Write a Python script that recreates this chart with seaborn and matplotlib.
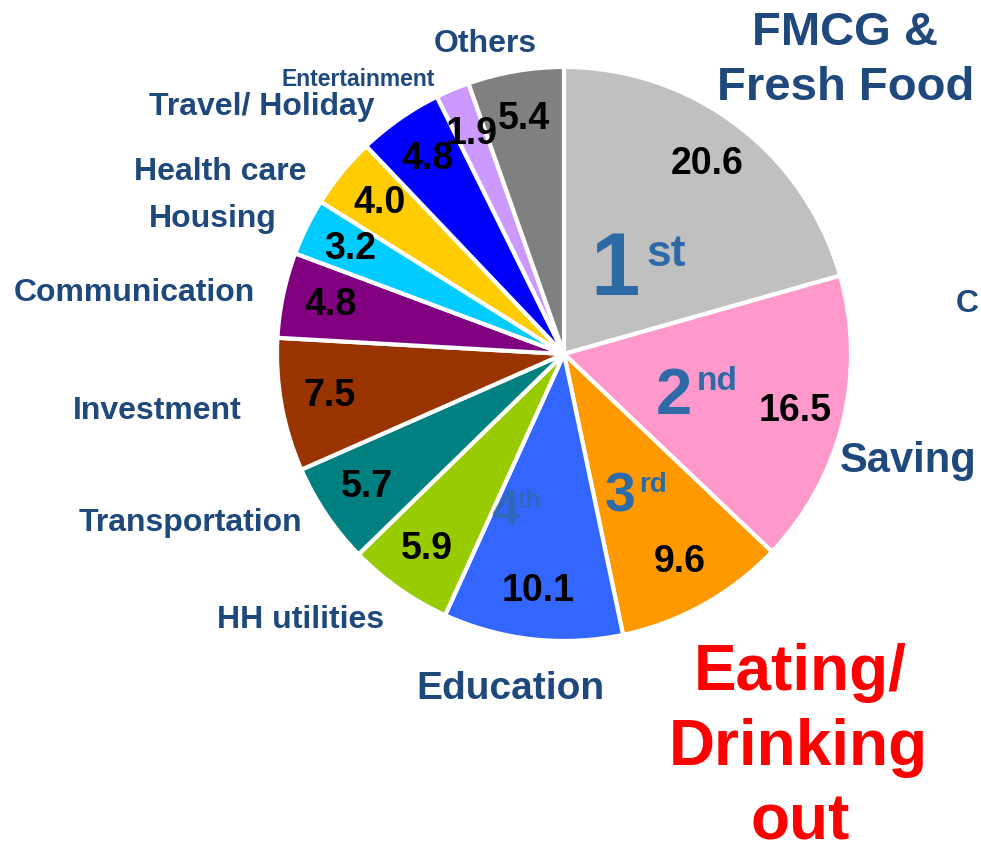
import seaborn as sns
import matplotlib.pyplot as plt

categories = ['FMCG & Fresh Food', 'Saving', 'Eating/ Drinking out', 'Education',
              'HH utilities', 'Transportation', 'Investment', 'Communication',
              'Housing', 'Health care', 'Travel/ Holiday', 'Entertainment', 'Others']
values = [20.6, 16.5, 9.6, 10.1, 5.9, 5.7, 7.5, 4.8, 3.2, 4.0, 4.8, 1.9, 5.4]
slice_colors = ['#C0C0C0', '#FF99CC', '#FF9900', '#3366FF', '#99CC00', '#008080',
                '#993300', '#800080', '#00CCFF', '#FFCC00', '#0000FF', '#CC99FF', '#808080']
ranks = ['1', '2', '3', '4']
rank_suffix = ['st', 'nd', 'rd', 'th']

sns.set_theme(style='white')
plt.rcParams['font.family'] = ['Liberation Sans', 'DejaVu Sans']

fig = plt.figure(figsize=(9.81, 8.51), dpi=100)
ax = fig.add_axes([0, 0, 1, 1])

# with y inverted, counterclock in data = clockwise on screen; -90 points up
ax.pie(values, colors=sns.color_palette(slice_colors), center=(564, 354), radius=287,
       startangle=-90, counterclock=True, autopct=lambda p: f'{p:.1f}', pctdistance=0.83,
       wedgeprops=dict(edgecolor='white', linewidth=3),
       textprops=dict(fontsize=27, fontweight='bold', color='black',
                      family=['Liberation Sans Narrow', 'Liberation Sans']), frame=True)
ax.set_xlim(0, 981)
ax.set_ylim(851, 0)  # pixel-like coords, y down
ax.axis('off')

lab = '#1F497D'
small = dict(color=lab, fontweight='bold', ha='center', va='center')
ax.text(485, 44, 'Others', fontsize=23, **small)
ax.text(358, 80, 'Entertainment', fontsize=16.5, **small)
ax.text(262, 107, 'Travel/ Holiday', fontsize=23, **small)
ax.text(220, 172, 'Health care', fontsize=23, **small)
ax.text(213, 219, 'Housing', fontsize=23, **small)
ax.text(134, 293, 'Communication', fontsize=23, **small)
ax.text(157, 411, 'Investment', fontsize=23, **small)
ax.text(190, 523, 'Transportation', fontsize=23, **small)
ax.text(301, 620, 'HH utilities', fontsize=23, **small)
ax.text(510, 689, 'Education', fontsize=28, **small)
ax.text(840, 461, 'Saving', fontsize=30, color=lab, fontweight='bold', ha='left', va='center')
ax.text(845, 33, 'FMCG &', fontsize=34, **small)
ax.text(846, 88, 'Fresh Food', fontsize=34, **small)
ax.text(956, 304, 'C', fontsize=23, color=lab, fontweight='bold', ha='left', va='center')

red = dict(color='#FF0000', fontweight='bold', ha='center', va='center', fontsize=46)
ax.text(800, 673, 'Eating/', **red)
ax.text(798, 748, 'Drinking', **red)
ax.text(800, 822, 'out', **red)

# rank markers with superscripts
rank_col = '#2E6AA6'
rank_pos = [(615, 272, 64, 666, 254, 32),
            (674, 397, 47, 717, 382, 24),
            (620, 498, 40, 653, 485, 20),
            (505, 512, 36, 530, 501, 18)]
for r, s, (x, y, fs, sx, sy, sfs) in zip(ranks, rank_suffix, rank_pos):
    a = 0.75 if r == '4' else 1.0
    ax.text(x, y, r, fontsize=fs, color=rank_col, fontweight='bold', ha='center', va='center', alpha=a)
    ax.text(sx, sy, s, fontsize=sfs, color=rank_col, fontweight='bold', ha='center', va='center', alpha=a)

fig.savefig('out.png', dpi=100)
